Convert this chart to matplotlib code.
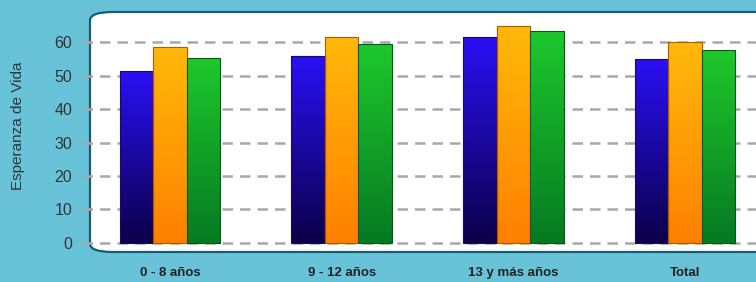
import numpy as np
import matplotlib.pyplot as plt
from matplotlib.patches import FancyBboxPatch
from matplotlib.colors import LinearSegmentedColormap

categories = ["0 - 8 años", "9 - 12 años", "13 y más años", "Total"]
serie_azul = [51.3, 55.8, 61.5, 55.0]
serie_naranja = [58.6, 61.5, 64.8, 60.0]
serie_verde = [55.2, 59.4, 63.3, 57.6]
y_ticks = [0, 10, 20, 30, 40, 50, 60]

# gradient colours (bottom, top) for each series
gradients = [
    ("#0c0048", "#2a10f5"),
    ("#ff8000", "#ffb90a"),
    ("#067a22", "#1ec82c"),
]
edges = ["#1a0a60", "#b05a00", "#055a18"]

plt.rcParams["font.family"] = ["Liberation Sans Narrow", "Liberation Sans", "DejaVu Sans"]

fig = plt.figure(figsize=(7.56, 2.82), dpi=100)
fig.patch.set_facecolor("#68c3d9")

W, H = 756, 282

# white rounded panel, behind the axes
panel = FancyBboxPatch((90 / W, 30 / H), 700 / W, 240 / H,
                       boxstyle="round,pad=0,rounding_size=0.03",
                       transform=fig.transFigure, facecolor="white",
                       edgecolor="#145d72", linewidth=1.6, zorder=-5)
fig.patches.append(panel)

ax = fig.add_axes([82 / W, 30 / H, 1 - 82 / W, 240 / H])
ax.set_zorder(1)
ax.set_facecolor("none")
for s in ax.spines.values():
    s.set_visible(False)

spacing = 171.7

for t in y_ticks:
    ax.axhline(t, color="#a8a8a8", linewidth=1.8, linestyle=(0, (4.2, 2.8)), zorder=1)

x = np.arange(len(categories))
width = 0.195
series = [serie_azul, serie_naranja, serie_verde]
offsets = [-width, 0, width]

grad = np.linspace(0, 1, 256).reshape(-1, 1)
for vals, off, (c0, c1), ec in zip(series, offsets, gradients, edges):
    cmap = LinearSegmentedColormap.from_list("g", [c0, c1])
    bars = ax.bar(x + off, vals, width, color="none", edgecolor=ec,
                  linewidth=0.8, zorder=3)
    for b in bars:
        x0, y0 = b.get_x(), b.get_y()
        im = ax.imshow(grad, cmap=cmap, origin="lower", aspect="auto",
                       extent=[x0, x0 + b.get_width(), y0, y0 + b.get_height()],
                       zorder=2)
        im.set_clip_path(b)

ax.set_xlim(-(170 - 82) / spacing, 3 + (756 - 685) / spacing)
ax.set_ylim(-2.69, 68.96)

ax.set_yticks(y_ticks)
ax.set_yticklabels([str(t) for t in y_ticks], fontsize=11.5, color="#333333")
ax.tick_params(axis="y", length=0, pad=7)
ax.set_xticks([])

for xi, lab in zip(x, categories):
    ax.text(xi, -8.9, lab, ha="center", va="center", fontsize=9.5,
            fontweight="bold", color="#222222")

fig.text(18 / W, 0.553, "Esperanza de Vida", rotation=90, ha="center",
         va="center", fontsize=11, color="#333333")

fig.savefig("out.png", dpi=100, facecolor=fig.get_facecolor())
